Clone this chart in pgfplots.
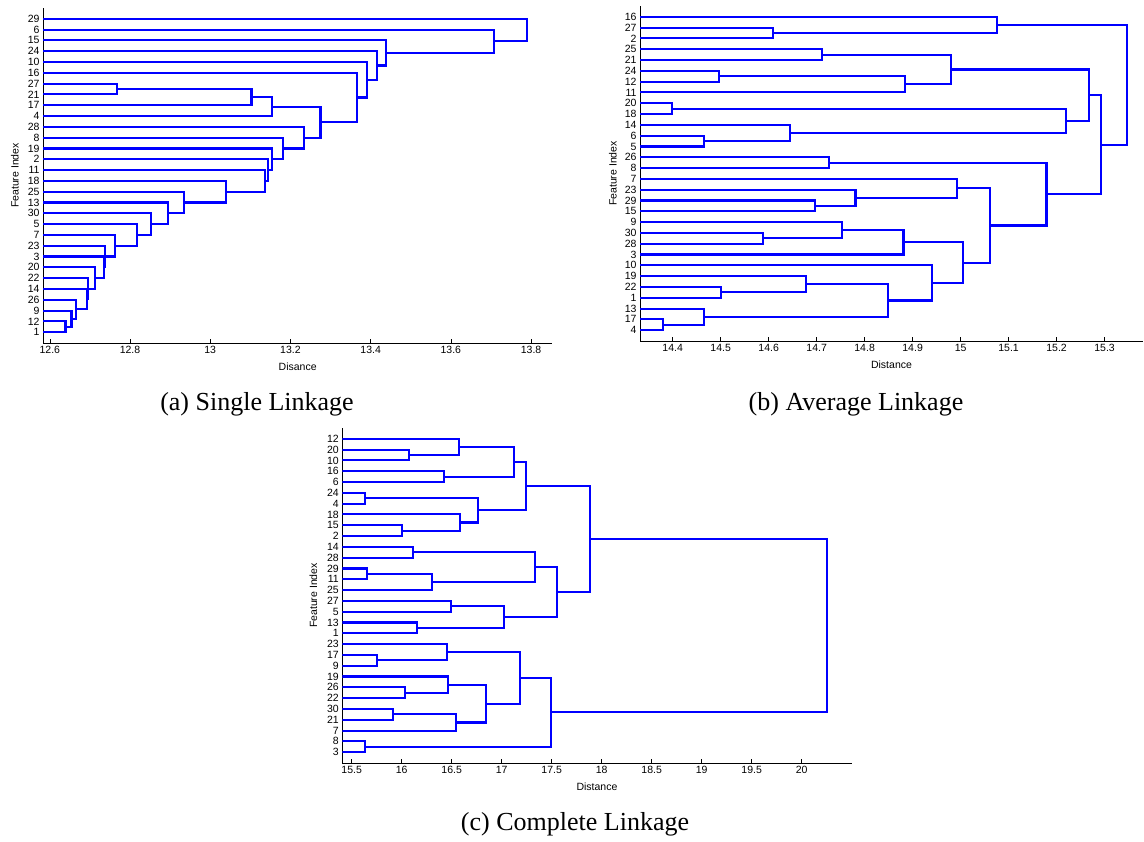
\documentclass[border=0pt]{standalone}
\usepackage{fontspec}
\setmainfont{Liberation Sans}
\newfontfamily\capfont{Liberation Serif}
\usepackage{pgfplots}
\pgfplotsset{compat=1.18}

\pgfplotsset{
  dendro/.style={
    scale only axis, anchor=south west,
    height=335pt, ymin=0, ymax=31,
    axis x line*=bottom, axis y line*=left,
    axis line style={black, line width=0.8pt},
    tick align=inside, major tick length=3.5pt,
    tick style={black, line width=0.6pt},
    ytick={1,...,30},
    tick label style={font=\fontsize{10.5}{12}\selectfont},
    label style={font=\fontsize{10.5}{12}\selectfont},
    ylabel={Feature Index},
    xlabel style={at={(axis description cs:0.5,-0.072)}, anchor=center},
  },
  dl/.style={blue, line width=2.1pt},
}

\begin{document}
\begin{tikzpicture}
\useasboundingbox (0,0) rectangle (1144pt,842pt);

% (a) single linkage
\begin{axis}[dendro,
  at={(43pt,499pt)}, width=509.3pt,
  xmin=12.583, xmax=13.853,
  xtick={12.6,12.8,13,13.2,13.4,13.6,13.8},
  xticklabels={12.6,12.8,13,13.2,13.4,13.6,13.8},
  yticklabels={1,12,9,26,14,22,20,3,23,7,5,30,13,25,18,11,2,19,8,28,4,17,21,27,16,10,24,15,6,29},
  xlabel={Disance},
  ylabel style={at={(axis description cs:-0.055,0.5)}, anchor=center},
]
\addplot[dl] coordinates {(12.5,2) (12.639,2) (12.639,1) (12.5,1)};
\addplot[dl] coordinates {(12.5,3) (12.654,3) (12.654,1.5) (12.639,1.5)};
\addplot[dl] coordinates {(12.5,4) (12.666,4) (12.666,2.25) (12.654,2.25)};
\addplot[dl] coordinates {(12.5,5) (12.692,5) (12.692,3.125) (12.666,3.125)};
\addplot[dl] coordinates {(12.5,6) (12.695,6) (12.695,4.0625) (12.692,4.0625)};
\addplot[dl] coordinates {(12.5,7) (12.712,7) (12.712,5.031) (12.695,5.031)};
\addplot[dl] coordinates {(12.5,8) (12.735,8) (12.735,6.016) (12.712,6.016)};
\addplot[dl] coordinates {(12.5,9) (12.737,9) (12.737,7.008) (12.735,7.008)};
\addplot[dl] coordinates {(12.5,10) (12.762,10) (12.762,8.004) (12.737,8.004)};
\addplot[dl] coordinates {(12.5,11) (12.817,11) (12.817,9.002) (12.762,9.002)};
\addplot[dl] coordinates {(12.5,12) (12.852,12) (12.852,10.001) (12.817,10.001)};
\addplot[dl] coordinates {(12.5,13) (12.894,13) (12.894,11) (12.852,11)};
\addplot[dl] coordinates {(12.5,14) (12.935,14) (12.935,12) (12.894,12)};
\addplot[dl] coordinates {(12.5,15) (13.040,15) (13.040,13) (12.935,13)};
\addplot[dl] coordinates {(12.5,16) (13.136,16) (13.136,14) (13.040,14)};
\addplot[dl] coordinates {(12.5,17) (13.144,17) (13.144,15) (13.136,15)};
\addplot[dl] coordinates {(12.5,18) (13.154,18) (13.154,16) (13.144,16)};
\addplot[dl] coordinates {(12.5,19) (13.182,19) (13.182,17) (13.154,17)};
\addplot[dl] coordinates {(12.5,20) (13.233,20) (13.233,18) (13.182,18)};
\addplot[dl] coordinates {(12.5,24) (12.768,24) (12.768,23) (12.5,23)};
\addplot[dl] coordinates {(12.768,23.5) (13.103,23.5) (13.103,22) (12.5,22)};
\addplot[dl] coordinates {(13.103,22.75) (13.154,22.75) (13.154,21) (12.5,21)};
\addplot[dl] coordinates {(13.154,21.875) (13.275,21.875) (13.275,19) (13.233,19)};
\addplot[dl] coordinates {(12.5,25) (13.366,25) (13.366,20.4375) (13.275,20.4375)};
\addplot[dl] coordinates {(12.5,26) (13.390,26) (13.390,22.719) (13.366,22.719)};
\addplot[dl] coordinates {(12.5,27) (13.415,27) (13.415,24.359) (13.390,24.359)};
\addplot[dl] coordinates {(12.5,28) (13.438,28) (13.438,25.680) (13.415,25.680)};
\addplot[dl] coordinates {(12.5,29) (13.708,29) (13.708,26.840) (13.438,26.840)};
\addplot[dl] coordinates {(12.5,30) (13.791,30) (13.791,27.920) (13.708,27.920)};
\end{axis}

% (b) average linkage
\begin{axis}[dendro,
  at={(640pt,501pt)}, width=503pt,
  xmin=14.332, xmax=15.38,
  xtick={14.4,14.5,14.6,14.7,14.8,14.9,15,15.1,15.2,15.3},
  xticklabels={14.4,14.5,14.6,14.7,14.8,14.9,15,15.1,15.2,15.3},
  yticklabels={4,17,13,1,22,19,10,3,28,30,9,15,29,23,7,8,26,5,6,14,18,20,11,12,24,21,25,2,27,16},
  xlabel={Distance},
  ylabel style={at={(axis description cs:-0.054,0.5)}, anchor=center},
]
\addplot[dl] coordinates {(14.2,29) (14.610,29) (14.610,28) (14.2,28)};
\addplot[dl] coordinates {(14.2,30) (15.076,30) (15.076,28.5) (14.610,28.5)};
\addplot[dl] coordinates {(14.2,27) (14.711,27) (14.711,26) (14.2,26)};
\addplot[dl] coordinates {(14.2,25) (14.497,25) (14.497,24) (14.2,24)};
\addplot[dl] coordinates {(14.497,24.5) (14.885,24.5) (14.885,23) (14.2,23)};
\addplot[dl] coordinates {(14.711,26.5) (14.980,26.5) (14.980,23.75) (14.885,23.75)};
\addplot[dl] coordinates {(14.2,22) (14.399,22) (14.399,21) (14.2,21)};
\addplot[dl] coordinates {(14.2,19) (14.465,19) (14.465,18) (14.2,18)};
\addplot[dl] coordinates {(14.2,20) (14.645,20) (14.645,18.5) (14.465,18.5)};
\addplot[dl] coordinates {(14.399,21.5) (15.219,21.5) (15.219,19.25) (14.645,19.25)};
\addplot[dl] coordinates {(14.980,25.125) (15.267,25.125) (15.267,20.375) (15.219,20.375)};
\addplot[dl] coordinates {(14.2,17) (14.726,17) (14.726,16) (14.2,16)};
\addplot[dl] coordinates {(14.2,13) (14.697,13) (14.697,12) (14.2,12)};
\addplot[dl] coordinates {(14.2,14) (14.781,14) (14.781,12.5) (14.697,12.5)};
\addplot[dl] coordinates {(14.2,15) (14.993,15) (14.993,13.25) (14.781,13.25)};
\addplot[dl] coordinates {(14.2,10) (14.589,10) (14.589,9) (14.2,9)};
\addplot[dl] coordinates {(14.2,11) (14.753,11) (14.753,9.5) (14.589,9.5)};
\addplot[dl] coordinates {(14.753,10.25) (14.881,10.25) (14.881,8) (14.2,8)};
\addplot[dl] coordinates {(14.2,5) (14.500,5) (14.500,4) (14.2,4)};
\addplot[dl] coordinates {(14.2,6) (14.678,6) (14.678,4.5) (14.500,4.5)};
\addplot[dl] coordinates {(14.2,2) (14.380,2) (14.380,1) (14.2,1)};
\addplot[dl] coordinates {(14.2,3) (14.465,3) (14.465,1.5) (14.380,1.5)};
\addplot[dl] coordinates {(14.678,5.25) (14.849,5.25) (14.849,2.25) (14.465,2.25)};
\addplot[dl] coordinates {(14.2,7) (14.941,7) (14.941,3.75) (14.849,3.75)};
\addplot[dl] coordinates {(14.881,9.125) (15.005,9.125) (15.005,5.375) (14.941,5.375)};
\addplot[dl] coordinates {(14.993,14.125) (15.062,14.125) (15.062,7.25) (15.005,7.25)};
\addplot[dl] coordinates {(14.726,16.5) (15.179,16.5) (15.179,10.6875) (15.062,10.6875)};
\addplot[dl] coordinates {(15.267,22.75) (15.292,22.75) (15.292,13.594) (15.179,13.594)};
\addplot[dl] coordinates {(15.076,29.25) (15.346,29.25) (15.346,18.172) (15.292,18.172)};
\end{axis}

% (c) complete linkage
\begin{axis}[dendro,
  at={(342.3pt,79pt)}, width=509.4pt,
  xmin=15.406, xmax=20.5,
  xtick={15.5,16,16.5,17,17.5,18,18.5,19,19.5,20},
  xticklabels={15.5,16,16.5,17,17.5,18,18.5,19,19.5,20},
  yticklabels={3,8,7,21,30,22,26,19,9,17,23,1,13,5,27,25,11,29,28,14,2,15,18,4,24,6,16,10,20,12},
  xlabel={Distance},
  ylabel style={at={(axis description cs:-0.057,0.5)}, anchor=center},
]
\addplot[dl] coordinates {(15.2,29) (16.073,29) (16.073,28) (15.2,28)};
\addplot[dl] coordinates {(15.2,30) (16.576,30) (16.576,28.5) (16.073,28.5)};
\addplot[dl] coordinates {(15.2,27) (16.426,27) (16.426,26) (15.2,26)};
\addplot[dl] coordinates {(16.576,29.25) (17.123,29.25) (17.123,26.5) (16.426,26.5)};
\addplot[dl] coordinates {(15.2,25) (15.633,25) (15.633,24) (15.2,24)};
\addplot[dl] coordinates {(15.2,22) (16.000,22) (16.000,21) (15.2,21)};
\addplot[dl] coordinates {(15.2,23) (16.586,23) (16.586,21.5) (16.000,21.5)};
\addplot[dl] coordinates {(15.633,24.5) (16.763,24.5) (16.763,22.25) (16.586,22.25)};
\addplot[dl] coordinates {(17.123,27.875) (17.246,27.875) (17.246,23.375) (16.763,23.375)};
\addplot[dl] coordinates {(15.2,20) (16.110,20) (16.110,19) (15.2,19)};
\addplot[dl] coordinates {(15.2,18) (15.650,18) (15.650,17) (15.2,17)};
\addplot[dl] coordinates {(15.650,17.5) (16.306,17.5) (16.306,16) (15.2,16)};
\addplot[dl] coordinates {(16.110,19.5) (17.333,19.5) (17.333,16.75) (16.306,16.75)};
\addplot[dl] coordinates {(15.2,15) (16.493,15) (16.493,14) (15.2,14)};
\addplot[dl] coordinates {(15.2,13) (16.150,13) (16.150,12) (15.2,12)};
\addplot[dl] coordinates {(16.493,14.5) (17.026,14.5) (17.026,12.5) (16.150,12.5)};
\addplot[dl] coordinates {(17.333,18.125) (17.556,18.125) (17.556,13.5) (17.026,13.5)};
\addplot[dl] coordinates {(17.246,25.625) (17.883,25.625) (17.883,15.8125) (17.556,15.8125)};
\addplot[dl] coordinates {(15.2,10) (15.750,10) (15.750,9) (15.2,9)};
\addplot[dl] coordinates {(15.2,11) (16.453,11) (16.453,9.5) (15.750,9.5)};
\addplot[dl] coordinates {(15.2,7) (16.036,7) (16.036,6) (15.2,6)};
\addplot[dl] coordinates {(15.2,8) (16.463,8) (16.463,6.5) (16.036,6.5)};
\addplot[dl] coordinates {(15.2,5) (15.910,5) (15.910,4) (15.2,4)};
\addplot[dl] coordinates {(15.910,4.5) (16.540,4.5) (16.540,3) (15.2,3)};
\addplot[dl] coordinates {(16.463,7.25) (16.843,7.25) (16.843,3.75) (16.540,3.75)};
\addplot[dl] coordinates {(16.453,10.25) (17.183,10.25) (17.183,5.5) (16.843,5.5)};
\addplot[dl] coordinates {(15.2,2) (15.633,2) (15.633,1) (15.2,1)};
\addplot[dl] coordinates {(17.183,7.875) (17.490,7.875) (17.490,1.5) (15.633,1.5)};
\addplot[dl] coordinates {(17.883,20.719) (20.250,20.719) (20.250,4.6875) (17.490,4.6875)};
\end{axis}

\node[anchor=base, font=\capfont\fontsize{26}{30}\selectfont] at (257pt,431pt) {(a) Single Linkage};
\node[anchor=base, font=\capfont\fontsize{26}{30}\selectfont] at (856pt,431pt) {(b) Average Linkage};
\node[anchor=base, font=\capfont\fontsize{26}{30}\selectfont] at (575pt,11pt) {(c) Complete Linkage};
\end{tikzpicture}
\end{document}
